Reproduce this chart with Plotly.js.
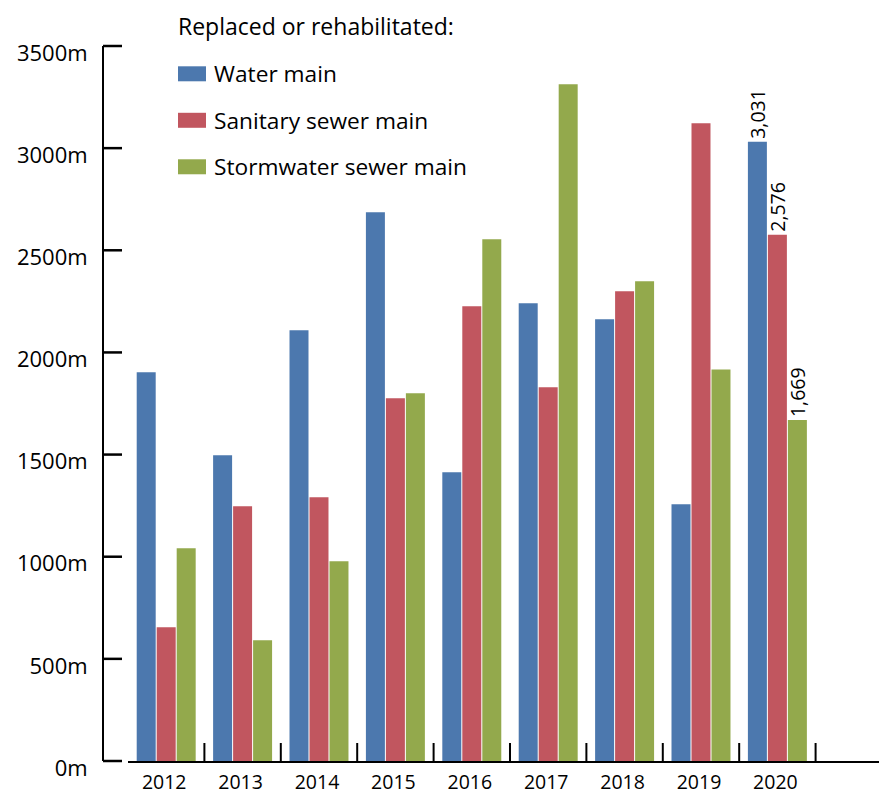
<!DOCTYPE html>
<html>
<head>
<meta charset="utf-8">
<script src="https://cdn.plot.ly/plotly-3.0.1.min.js"></script>
<style>
  html, body { margin: 0; padding: 0; background: #fff; }
  #chart { width: 879px; height: 796px; }
</style>
</head>
<body>
<div id="chart"></div>
<script>
// ---- Data ----
const years = ['2012', '2013', '2014', '2015', '2016', '2017', '2018', '2019', '2020'];
const seriesNames = ['Water main', 'Sanitary sewer main', 'Stormwater sewer main'];
const waterMain       = [1903, 1497, 2108, 2686, 1413, 2241, 2163, 1257, 3031];
const sanitarySewer   = [ 655, 1247, 1291, 1776, 2226, 1829, 2299, 3122, 2576];
const stormwaterSewer = [1042,  591,  978, 1800, 2554, 3313, 2348, 1917, 1669];
const yTickVals = [0, 500, 1000, 1500, 2000, 2500, 3000, 3500];
const legendTitle = 'Replaced or rehabilitated:';

const colors = ['#4C78AE', '#C1565F', '#93A94C'];
const FONT = 'Open Sans, Noto Sans, sans-serif';
const Y_MIN = 0, Y_MAX = 3500;

// geometry helpers (pixel -> paper)
const W = 879, H = 796;
const L = 103, R = 0, T = 45.7, B = 796 - 760.8;
const pw = W - L - R, ph = H - T - B;
const px = v => (v - L) / pw;
const py = v => (H - B - v) / ph;

const allSeries = [waterMain, sanitarySewer, stormwaterSewer];
const lastIdx = years.length - 1;

const traces = allSeries.map((vals, s) => ({
  type: 'bar',
  name: seriesNames[s],
  x: years,
  y: vals,
  marker: { color: colors[s], line: { width: 0 } },
  text: vals.map((v, i) => i === lastIdx ? v.toLocaleString('en-US') : ''),
  textposition: 'outside',
  textangle: -90,
  constraintext: 'none',
  cliponaxis: false,
  textfont: { family: FONT, size: 19.5, color: '#000' },
  hoverinfo: 'x+y+name',
  showlegend: false
}));

const shapes = [];
// x-axis boundary ticks (between categories), pointing up into the plot
years.forEach((yr, i) => shapes.push({
  type: 'line', xref: 'x', yref: 'paper',
  x0: i + 0.5, x1: i + 0.5, y0: 0, y1: 18 / ph,
  line: { color: '#000', width: 2 }
}));
// y-axis ticks pointing right (drawn in paper space so they are not clipped)
yTickVals.forEach(v => {
  const yp = (v - Y_MIN) / (Y_MAX - Y_MIN);
  shapes.push({
    type: 'line', xref: 'paper', yref: 'paper',
    x0: 0, x1: 19 / pw, y0: yp, y1: yp,
    line: { color: '#000', width: 2.5 }
  });
});

// custom legend swatches + labels
const annotations = [{
  xref: 'paper', yref: 'paper', x: px(176), y: py(26),
  xanchor: 'left', yanchor: 'middle', showarrow: false,
  text: legendTitle, font: { family: FONT, size: 23, color: '#000' }
}];
const legendY = [73.5, 120, 166.5];
seriesNames.forEach((nm, s) => {
  shapes.push({
    type: 'rect', xref: 'paper', yref: 'paper',
    x0: px(178), x1: px(206), y0: py(legendY[s] + 7.5), y1: py(legendY[s] - 7.5),
    fillcolor: colors[s], line: { width: 0 }
  });
  annotations.push({
    xref: 'paper', yref: 'paper', x: px(212), y: py(legendY[s]),
    xanchor: 'left', yanchor: 'middle', showarrow: false,
    text: nm, font: { family: FONT, size: 22.7, color: '#000' }
  });
});

const layout = {
  width: W, height: H,
  margin: { l: L, r: R, t: T, b: B, pad: 0 },
  paper_bgcolor: '#fff', plot_bgcolor: '#fff',
  barmode: 'group', bargap: 0.215, bargroupgap: 0.05,
  showlegend: false,
  font: { family: FONT, color: '#000' },
  xaxis: {
    type: 'category',
    domain: [px(128), 1],
    range: [-0.5, 9.33],
    showline: true, linecolor: '#000', linewidth: 2,
    ticks: '', showgrid: false, zeroline: false,
    tickfont: { family: FONT, size: 19.5, color: '#000' },
    ticklabelstandoff: 3,
    ticklabelshift: -2,
    fixedrange: true
  },
  yaxis: {
    anchor: 'free', position: 0,
    range: [Y_MIN, Y_MAX],
    tickvals: yTickVals,
    ticktext: yTickVals.map(v => v + 'm'),
    ticks: '',
    showline: true, linecolor: '#000', linewidth: 2,
    showgrid: false, zeroline: false,
    tickfont: { family: FONT, size: 22, color: '#000' },
    ticklabelstandoff: 10,
    ticklabelshift: 7,
    fixedrange: true
  },
  shapes: shapes,
  annotations: annotations
};

Plotly.newPlot('chart', traces, layout, { displayModeBar: false, staticPlot: true });
</script>
</body>
</html>
